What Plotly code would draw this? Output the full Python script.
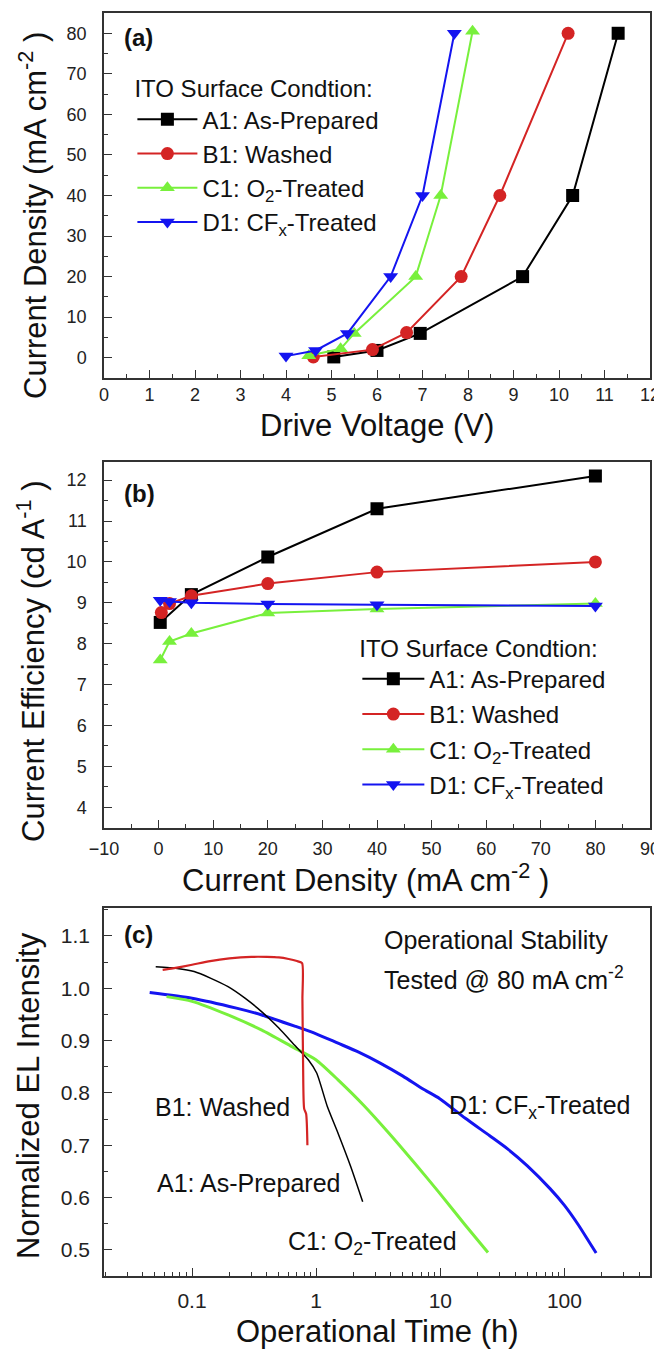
import plotly.graph_objects as go

# ---------------- data ----------------
# (a) Drive voltage (V) vs current density (mA cm-2)
V_A1 = [5.05, 6.0, 6.95, 9.2, 10.3, 11.3]
J_A1 = [0.2, 1.8, 6.0, 20, 40, 80]
V_B1 = [4.6, 5.9, 6.65, 7.85, 8.7, 10.2]
J_B1 = [0.2, 2.0, 6.2, 20, 40, 80]
V_C1 = [4.5, 5.2, 5.5, 6.85, 7.4, 8.1]
J_C1 = [0.5, 2.2, 6.0, 20, 40, 80.5]
V_D1 = [4.0, 4.65, 5.35, 6.3, 7.0, 7.7]
J_D1 = [0.4, 1.8, 6.0, 20, 40, 80]

# (b) current density (mA cm-2) vs current efficiency (cd A-1)
Jb_A1 = [0.3, 6, 20, 40, 80]
CE_A1 = [8.52, 9.2, 10.12, 11.3, 12.1]
Jb_B1 = [0.5, 2, 6, 20, 40, 80]
CE_B1 = [8.76, 8.98, 9.17, 9.47, 9.75, 10.0]
Jb_C1 = [0.3, 2, 6, 20, 40, 80]
CE_C1 = [7.6, 8.05, 8.25, 8.75, 8.85, 8.98]
Jb_D1 = [0.3, 2, 6, 20, 40, 80]
CE_D1 = [9.06, 9.03, 9.0, 8.97, 8.95, 8.92]

# (c) operational time (h) vs normalized EL intensity
t_A1 = [0.051, 0.076, 0.104, 0.142, 0.195, 0.267, 0.365, 0.5, 0.684, 0.867, 1.01, 1.23, 1.5, 1.9, 2.37]
EL_A1 = [1.041, 1.038, 1.032, 1.019, 1.003, 0.981, 0.955, 0.924, 0.889, 0.863, 0.838, 0.774, 0.723, 0.659, 0.592]
t_B1 = [0.058, 0.07, 0.1, 0.14, 0.2, 0.3, 0.4, 0.5, 0.6, 0.7, 0.77, 0.775, 0.785, 0.8, 0.83, 0.85]
EL_B1 = [1.035, 1.038, 1.045, 1.052, 1.057, 1.06, 1.06, 1.059, 1.056, 1.052, 1.048, 0.98, 0.85, 0.77, 0.76, 0.70]
t_C1 = [0.0624, 0.1, 0.195, 0.365, 0.632, 1.0, 1.5, 2.4, 3.86, 6.2, 9.9, 15.8, 24.2]
EL_C1 = [0.984, 0.975, 0.949, 0.92, 0.889, 0.863, 0.825, 0.777, 0.723, 0.666, 0.608, 0.548, 0.495]
t_D1 = [0.0456, 0.1, 0.228, 0.365, 0.684, 1.0, 1.5, 2.2, 3.28, 5.0, 7.2, 9.9, 15.8, 25, 34.8, 50, 76.5, 100, 130, 160, 180]
EL_D1 = [0.992, 0.981, 0.962, 0.949, 0.927, 0.913, 0.895, 0.878, 0.857, 0.832, 0.808, 0.789, 0.752, 0.718, 0.693,
         0.661, 0.617, 0.585, 0.547, 0.513, 0.494]

names = ["A1: As-Prepared", "B1: Washed", "C1: O<sub>2</sub>-Treated", "D1: CF<sub>x</sub>-Treated"]
colors = ["#000000", "#d42424", "#78f03c", "#1414f0"]
symbols = ["square", "circle", "triangle-up", "triangle-down"]

FONT = "Liberation Sans, Arial, sans-serif"
# the page body keeps its default 8 px margin, so the figure is 8 px smaller than the window
OFF = 8
W, H = 662 - OFF, 1351 - OFF
ML, MR, MT, MB = 104 - OFF, 12, 13 - OFF, 75

fig = go.Figure()

a_sets = [(V_A1, J_A1), (V_B1, J_B1), (V_C1, J_C1), (V_D1, J_D1)]
for i, (x, y) in enumerate(a_sets):
    fig.add_trace(go.Scatter(x=x, y=y, xaxis="x", yaxis="y", mode="lines+markers",
                             name=names[i], legend="legend", legendgroup="a%d" % i,
                             line=dict(color=colors[i], width=2),
                             marker=dict(symbol=symbols[i], size=13, color=colors[i])))

b_sets = [(Jb_A1, CE_A1), (Jb_B1, CE_B1), (Jb_C1, CE_C1), (Jb_D1, CE_D1)]
for i, (x, y) in enumerate(b_sets):
    fig.add_trace(go.Scatter(x=x, y=y, xaxis="x2", yaxis="y2", mode="lines+markers",
                             name=names[i], legend="legend2", legendgroup="b%d" % i,
                             line=dict(color=colors[i], width=2),
                             marker=dict(symbol=symbols[i], size=13, color=colors[i])))

c_sets = [(t_D1, EL_D1, 3, colors[3]), (t_C1, EL_C1, 3, colors[2]),
          (t_A1, EL_A1, 1.5, colors[0]), (t_B1, EL_B1, 2.2, colors[1])]
for x, y, w, c in c_sets:
    fig.add_trace(go.Scatter(x=x, y=y, xaxis="x3", yaxis="y3", mode="lines",
                             showlegend=False, line=dict(color=c, width=w, shape="spline", smoothing=0.6)))

def axis(size=18, standoff=9, **kw):
    d = dict(showline=True, linecolor="#333", linewidth=1.5, mirror=True,
             ticks="inside", ticklen=8, tickwidth=1.2, tickcolor="#333",
             showgrid=False, zeroline=False, automargin=False,
             tickfont=dict(family=FONT, size=size, color="#222"),
             ticklabelstandoff=standoff)
    d.update(kw)
    return d

leg_font = dict(family=FONT, size=24, color="#111")

fig.update_layout(
    width=W, height=H,
    margin=dict(l=ML, r=MR, t=MT, b=MB),
    paper_bgcolor="white", plot_bgcolor="white",
    font=dict(family=FONT, color="#111"),
    xaxis=axis(standoff=0, domain=[0, 1], anchor="y", range=[0, 12], dtick=1,
               minor=dict(ticks="inside", ticklen=4, dtick=0.5, tickcolor="#333")),
    yaxis=axis(standoff=12, domain=[0.711, 1.0], anchor="x", range=[-5, 85],
               tickvals=[0, 10, 20, 30, 40, 50, 60, 70, 80],
               minor=dict(ticks="inside", ticklen=4, dtick=5, tickcolor="#333")),
    xaxis2=axis(standoff=4, domain=[0, 1], anchor="y2", range=[-10, 90], dtick=10,
                minor=dict(ticks="inside", ticklen=4, dtick=5, tickcolor="#333")),
    yaxis2=axis(standoff=12, domain=[0.355, 0.6447], anchor="x2", range=[3.5, 12.45],
                tickvals=[4, 5, 6, 7, 8, 9, 10, 11, 12],
                minor=dict(ticks="inside", ticklen=4, dtick=0.5, tickcolor="#333")),
    xaxis3=axis(size=21, standoff=5, domain=[0, 1], anchor="y3", type="log", range=[-1.709, 2.689],
                tickvals=[0.1, 1, 10, 100], ticktext=["0.1", "1", "10", "100"],
                minor=dict(ticks="inside", ticklen=4, tickcolor="#333",
                           tickvals=[m * 10 ** e for e in (-2, -1, 0, 1, 2) for m in range(2, 10)])),
    yaxis3=axis(size=21, standoff=8, domain=[0, 0.2914], anchor="x3", range=[0.45, 1.1535],
                tickvals=[0.5, 0.6, 0.7, 0.8, 0.9, 1.0, 1.1], tickformat=".1f",
                minor=dict(ticks="inside", ticklen=4, dtick=0.05, tickcolor="#333")),
    legend=dict(x=0.052, y=0.958, xanchor="left", yanchor="top", bgcolor="rgba(0,0,0,0)",
                font=leg_font, tracegroupgap=0, itemwidth=60,
                title=dict(text="ITO Surface Condtion:", font=leg_font)),
    legend2=dict(x=0.464, y=0.515, xanchor="left", yanchor="top", bgcolor="rgba(0,0,0,0)",
                 font=leg_font, tracegroupgap=1, itemwidth=62,
                 title=dict(text="ITO Surface Condtion:", font=leg_font)),
)

# helpers: reference-window pixel position -> paper coordinates
PW = W - ML - MR
PH = H - MT - MB
def px(xp):
    return (xp - OFF - ML) / PW
def py(yp):
    return (H - MB - (yp - OFF)) / PH

title_font = dict(family=FONT, size=31, color="#111")
ann_font = dict(family=FONT, size=25, color="#111")
panel_font = dict(family=FONT, size=24, color="#111", weight="bold")
annotations = [
    # axis titles
    dict(text="Drive Voltage (V)", xref="paper", yref="paper", x=px(377), y=py(425), font=title_font,
         xanchor="center"),
    dict(text="Current Density (mA cm<sup>-2</sup> )", xref="paper", yref="paper", x=px(365), y=py(878),
         font=title_font, xanchor="center"),
    dict(text="Operational Time (h)", xref="paper", yref="paper", x=px(377), y=py(1331), font=title_font,
         xanchor="center"),
    dict(text="Current Density (mA cm<sup>-2</sup> )", xref="paper", yref="paper", x=px(33), y=py(216),
         font=title_font, textangle=-90, xanchor="center"),
    dict(text="Current Efficiency (cd A<sup>-1</sup> )", xref="paper", yref="paper", x=px(31), y=py(661),
         font=title_font, textangle=-90, xanchor="center"),
    dict(text="Normalized EL Intensity", xref="paper", yref="paper", x=px(28), y=py(1096),
         font=title_font, textangle=-90, xanchor="center"),
    # panel labels
    dict(text="(a)", xref="x domain", yref="y domain", x=0.033, y=0.934, font=panel_font),
    dict(text="(b)", xref="x2 domain", yref="y2 domain", x=0.033, y=0.914, font=panel_font),
    dict(text="(c)", xref="x3 domain", yref="y3 domain", x=0.033, y=0.927, font=panel_font),
    # panel (c) labels
    dict(text="Operational Stability", xref="x3 domain", yref="y3", x=0.51, y=1.092, font=ann_font),
    dict(text="Tested @ 80 mA cm<sup>-2</sup>", xref="x3 domain", yref="y3", x=0.51, y=1.02, font=ann_font),
    dict(text="B1: Washed", xref="x3 domain", yref="y3", x=0.09, y=0.773, font=ann_font),
    dict(text="A1: As-Prepared", xref="x3 domain", yref="y3", x=0.093, y=0.628, font=ann_font),
    dict(text="C1: O<sub>2</sub>-Treated", xref="x3 domain", yref="y3", x=0.334, y=0.513, font=ann_font),
    dict(text="D1: CF<sub>x</sub>-Treated", xref="x3 domain", yref="y3", x=0.628, y=0.773, font=ann_font),
]
for a in annotations:
    a.setdefault("xanchor", "left")
    a.update(showarrow=False, yanchor="middle")
fig.update_layout(annotations=annotations)

fig.write_html("out.html")
